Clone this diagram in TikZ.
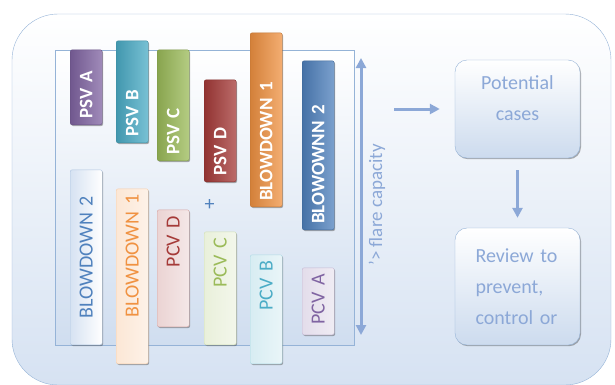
\documentclass[tikz,border=0pt]{standalone}
\usepackage{fontspec}
\setmainfont{Carlito}
\usetikzlibrary{arrows.meta, shadows}
\definecolor{flareblue}{RGB}{140,168,215}
\definecolor{frameblue}{RGB}{149,179,215}
\definecolor{backblue}{RGB}{214,226,242}
\definecolor{mypurple}{RGB}{128,100,162}
\definecolor{myteal}{RGB}{75,172,198}
\definecolor{mygreen}{RGB}{155,187,89}
\definecolor{myred}{RGB}{165,58,56}
\definecolor{myorange}{RGB}{240,146,66}
\definecolor{mydarkblue}{RGB}{79,129,189}

\tikzset{
    barshadow/.style={drop shadow={shadow xshift=1pt, shadow yshift=-1.2pt, opacity=0.45, fill=black!70}},
    psvbar/.style={rotate=90, anchor=north west, draw=#1!80!black, left color=#1!88!black, right color=#1!75!white,
        text=white, font=\bfseries\fontsize{19}{19}\selectfont, minimum height=32pt, inner xsep=6pt, inner ysep=0pt,
        rounded corners=2pt, align=left, barshadow},
    pcvbar/.style={rotate=90, anchor=north west, draw=#1!45!white, left color=#1!22!white, right color=#1!12!white,
        text=#1, font=\fontsize{20}{20}\selectfont, minimum height=32pt, inner xsep=6pt, inner ysep=0pt,
        rounded corners=2pt, align=right, barshadow},
    casebox/.style={draw=frameblue, rounded corners=12pt, top color=white, bottom color=backblue!85!frameblue,
        minimum width=125pt, barshadow},
    casetext/.style={text=flareblue, font=\fontsize{20}{31}\selectfont},
    flow/.style={draw=flareblue, line width=3pt, -{Triangle[width=10pt, length=10pt]}}
}

\begin{document}
\begin{tikzpicture}[x=1pt, y=1pt]
    \useasboundingbox (0, 0) rectangle (615, 384);
    % Outer frame and bar area
    \draw[frameblue, rounded corners=46pt, top color=white, bottom color=backblue] (12, -1) rectangle (611, 370);
    \draw[frameblue, top color=white, bottom color=backblue!90!frameblue] (55, 39) rectangle (354, 334);
    % Relief valves and blowdowns (upper row)
    \node[psvbar=mypurple, text width=63pt] (psva) at (70, 259) {PSV A};
    \node[psvbar=myteal, text width=90pt] (psvb) at (116, 241) {PSV B};
    \node[psvbar=mygreen, text width=99pt] (psvc) at (157, 223) {PSV C};
    \node[psvbar=myred, text width=90pt] (psvd) at (204, 202) {PSV D};
    \node[psvbar=myorange, text width=162pt] (bdone) at (250, 177) {BLOWDOWN 1};
    \node[psvbar=mydarkblue, text width=157pt] (bdtwo) at (302, 154) {BLOWOWNN 2};
    % Control valves and blowdowns (lower row)
    \node[pcvbar=mydarkblue, text width=163pt, align=center, left color=backblue, right color=white] (lowbdtwo) at (70, 39) {BLOWDOWN 2};
    \node[pcvbar=myorange, text width=163pt] (lowbdone) at (116, 20) {BLOWDOWN 1};
    \node[pcvbar=myred, text width=105pt] (pcvd) at (157, 57) {PCV D};
    \node[pcvbar=mygreen, text width=101pt] (pcvc) at (204, 39) {PCV C};
    \node[pcvbar=myteal, text width=97pt] (pcvb) at (250, 20) {PCV B};
    \node[pcvbar=mypurple, text width=55pt] (pcva) at (302, 49) {PCV A};
    \node[text=mydarkblue, font=\fontsize{20}{20}\selectfont, inner sep=0pt] (plus) at (209.5, 179.5) {+};
    % Flare capacity
    \coordinate (captop) at (361, 326);
    \coordinate (capbot) at (361, 49);
    \draw[flow, {Triangle[width=10pt, length=10pt]}-{Triangle[width=10pt, length=10pt]}] (capbot) -- (captop);
    \node[rotate=90, text=flareblue, font=\fontsize{19}{19}\selectfont] (caplabel) at (377, 179) {'> flare capacity};
    % Cases and review
    \node[casebox, minimum height=98pt] (potential) at (517.5, 275) {};
    \node[casetext, align=center, anchor=north] (potentialtxt) at ([yshift=-12pt]potential.north) {Potential\\cases};
    \node[casebox, minimum height=117pt, casetext, align=left, text width=84pt] (review) at (517.5, 97.5) {Review to\\prevent,\\control or};
    \coordinate (flarein) at (394, 275);
    \draw[flow] (flarein) -- ([xshift=-15pt]potential.west);
    \draw[flow] ([yshift=-12pt]potential.south) -- ([yshift=10pt]review.north);
\end{tikzpicture}
\end{document}
